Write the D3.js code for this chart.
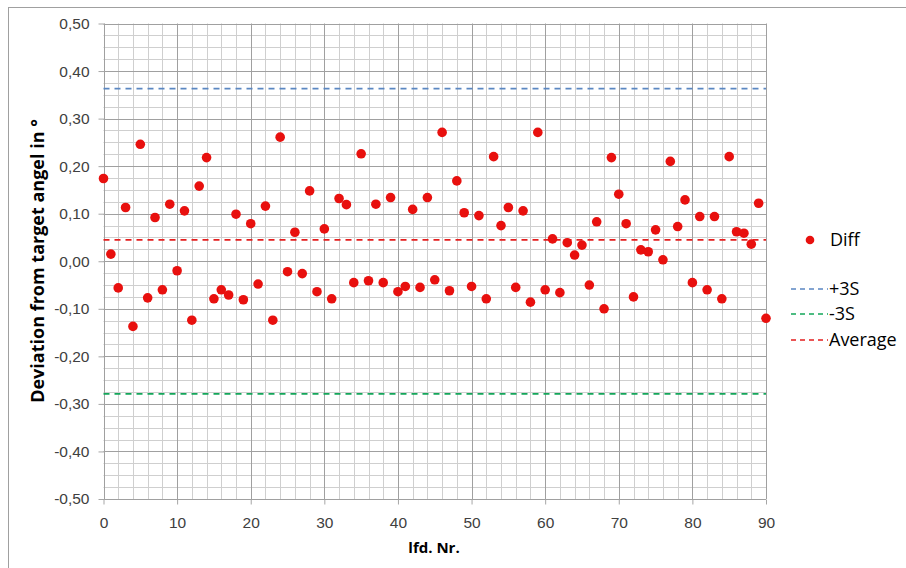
<!DOCTYPE html>
<html>
<head>
<meta charset="UTF-8">
<title>Deviation from target angel</title>
<script src="https://cdn.jsdelivr.net/npm/d3@7"></script>
<style>
  body { margin: 0; background: #fff; }
  svg { display: block; font-family: "Open Sans", sans-serif; }
  .tick text { fill: #404040; font-size: 15.5px; }
  .axis path, .axis line { stroke: #a6a6a6; }
</style>
</head>
<body>
<svg id="chart" width="906" height="568"></svg>
<script>
// measured deviation per lfd. Nr. (0..90)
const diff = [
  0.174, 0.015, -0.056, 0.113, -0.137, 0.246, -0.077, 0.092, -0.060, 0.120,
  -0.020, 0.106, -0.124, 0.158, 0.218, -0.079, -0.060, -0.071, 0.099, -0.081,
  0.079, -0.048, 0.116, -0.124, 0.261, -0.022, 0.061, -0.026, 0.148, -0.064,
  0.068, -0.079, 0.132, 0.119, -0.045, 0.226, -0.041, 0.120, -0.045, 0.134,
  -0.064, -0.053, 0.109, -0.055, 0.134, -0.039, 0.271, -0.062, 0.169, 0.102,
  -0.053, 0.096, -0.079, 0.220, 0.075, 0.113, -0.055, 0.106, -0.086, 0.271,
  -0.060, 0.047, -0.066, 0.039, 0.013, 0.034, -0.050, 0.083, -0.100, 0.218,
  0.141, 0.079, -0.075, 0.024, 0.020, 0.066, 0.003, 0.210, 0.073, 0.129,
  -0.045, 0.094, -0.060, 0.094, -0.079, 0.220, 0.062, 0.059, 0.036, 0.122,
  -0.120
];
const refNames = ["+3S", "-3S", "Average"];
const refValues = [0.363, -0.279, 0.045];
const refColors = ["#5b87c2", "#13a65a", "#e41e1e"];
const xTicks = [0, 10, 20, 30, 40, 50, 60, 70, 80, 90];
const yTicks = [-0.5, -0.4, -0.3, -0.2, -0.1, 0, 0.1, 0.2, 0.3, 0.4, 0.5];

const svg = d3.select("#chart");
const x = d3.scaleLinear().domain([0, 90]).range([103.5, 766]);
const y = d3.scaleLinear().domain([-0.5, 0.5]).range([499, 23.5]);

const loc = d3.formatLocale({decimal: ",", thousands: ".", grouping: [3], currency: ["", ""], minus: "-"});
const fmt = loc.format(".2f");

// outer frame (cut off at right/bottom)
svg.append("rect").attr("x", 8.5).attr("y", 7.5).attr("width", 1000).attr("height", 1000)
  .attr("fill", "none").attr("stroke", "#a0a0a0");

// grid
const g = svg.append("g");
const minorX = d3.range(0, 91, 2).filter(v => v % 10 !== 0);
const minorY = d3.range(-20, 21).map(v => v * 0.025).filter((v, i) => (i % 4) !== 0);
g.selectAll(".mx").data(minorX).join("line")
  .attr("x1", d => Math.round(x(d)) + 0.5).attr("x2", d => Math.round(x(d)) + 0.5)
  .attr("y1", y(0.5)).attr("y2", y(-0.5)).attr("stroke", "#cfcfcf");
g.selectAll(".my").data(minorY).join("line")
  .attr("y1", d => Math.round(y(d)) + 0.5).attr("y2", d => Math.round(y(d)) + 0.5)
  .attr("x1", x(0)).attr("x2", x(90)).attr("stroke", "#cfcfcf");
g.selectAll(".Mx").data(xTicks).join("line")
  .attr("x1", d => Math.round(x(d)) + 0.5).attr("x2", d => Math.round(x(d)) + 0.5)
  .attr("y1", y(0.5)).attr("y2", y(-0.5)).attr("stroke", "#a0a0a0");
g.selectAll(".My").data(yTicks).join("line")
  .attr("y1", d => Math.round(y(d)) + 0.5).attr("y2", d => Math.round(y(d)) + 0.5)
  .attr("x1", x(0)).attr("x2", x(90)).attr("stroke", "#a0a0a0");

// axes
svg.append("g").attr("class", "axis")
  .attr("transform", `translate(${Math.round(x(0)) + 0.5},0)`)
  .call(d3.axisLeft(y).tickValues(yTicks).tickFormat(fmt).tickSize(6).tickPadding(9))
  .call(a => a.select(".domain").remove());
svg.append("g").attr("class", "axis")
  .attr("transform", `translate(0,${Math.round(y(-0.5)) + 0.5})`)
  .call(d3.axisBottom(x).tickValues(xTicks).tickSize(5).tickPadding(12))
  .call(a => a.select(".domain").remove());

// reference lines
svg.append("g").selectAll("line").data(refValues).join("line")
  .attr("x1", x(0)).attr("x2", x(90))
  .attr("y1", d => y(d)).attr("y2", d => y(d))
  .attr("stroke", (d, i) => refColors[i]).attr("stroke-width", 1.8)
  .attr("stroke-dasharray", "6,5");

// points
svg.append("g").selectAll("circle").data(diff).join("circle")
  .attr("cx", (d, i) => x(i)).attr("cy", d => y(d)).attr("r", 4.8)
  .attr("fill", "#e8100e");

// axis titles
svg.append("text").attr("transform", "translate(44,261) rotate(-90)")
  .attr("text-anchor", "middle").attr("font-size", 18).attr("font-weight", "bold")
  .attr("fill", "#000").text("Deviation from target angel in °");
svg.append("text").attr("x", 434).attr("y", 553)
  .attr("text-anchor", "middle").attr("font-size", 15).attr("font-weight", "bold")
  .attr("fill", "#000").text("lfd. Nr.");

// legend
const leg = svg.append("g");
leg.append("circle").attr("cx", 810).attr("cy", 240).attr("r", 4.3).attr("fill", "#e8100e");
leg.append("text").attr("x", 830).attr("y", 246).attr("font-size", 18).text("Diff");
const legY = [289, 314, 340];
refNames.forEach((n, i) => {
  leg.append("line").attr("x1", 791).attr("x2", 828)
    .attr("y1", legY[i]).attr("y2", legY[i])
    .attr("stroke", refColors[i]).attr("stroke-width", 1.6).attr("stroke-dasharray", "5,4");
  leg.append("text").attr("x", 829).attr("y", legY[i] + 6).attr("font-size", 18).text(n);
});
</script>
</body>
</html>
